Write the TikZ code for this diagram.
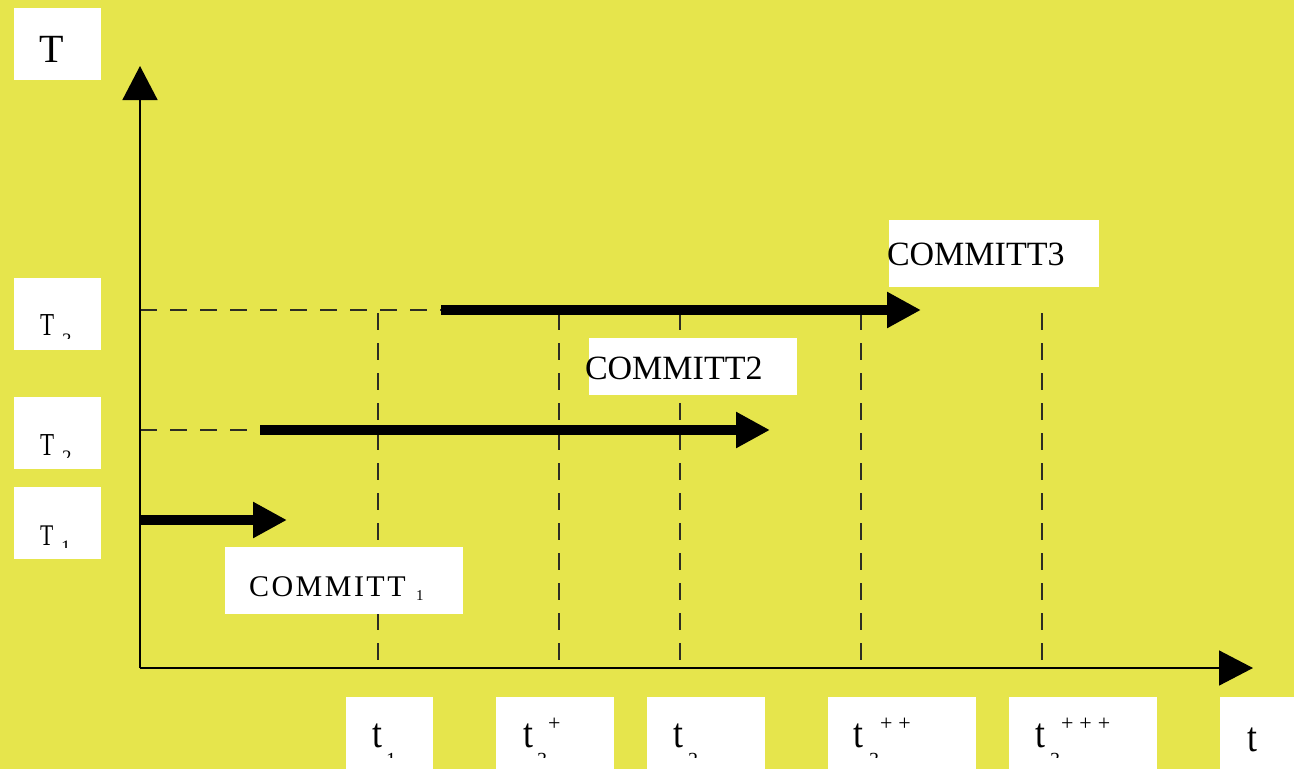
\documentclass[tikz,border=0pt]{standalone}
\usepackage{fontspec}
\setmainfont{Liberation Serif}
\usetikzlibrary{arrows.meta}
\definecolor{bgyellow}{RGB}{230,229,76}
\definecolor{guidegray}{RGB}{45,45,35}
\newcommand\fs[1]{\fontsize{#1}{#1}\selectfont}
% clip a label to its white box, leaving a 12pt strip at the bottom
\newcommand\clipabove[1]{\clip (#1.north west) rectangle ([yshift=12pt]#1.south east);}
\newcommand\spaced{C\kern2.5pt O\kern2.5pt M\kern2.5pt M\kern2.5pt I\kern2.5pt T\kern2.5pt T}

\begin{document}
\begin{tikzpicture}[x=1pt,y=-1pt,
  lbox/.style={fill=white, draw=none, inner sep=0pt, outer sep=0pt},
  txt/.style={inner sep=0pt, outer sep=0pt, anchor=base west},
  guide/.style={draw=guidegray, line width=1.2pt, dash pattern=on 17pt off 13pt},
  axis/.style={line width=1.5pt, -{Triangle[length=34pt,width=35pt]}},
  span/.style={line width=10pt, -{Triangle[length=34pt,width=34pt]}}]

% page
\fill[bgyellow] (0,0) rectangle (1294,769);
\useasboundingbox (0,0) rectangle (1294,769);

% axis points
\coordinate (O) at (140,668);
\coordinate (Ytip) at (140,66);
\coordinate (Xtip) at (1253,668);

% time marks on the axis and the tops of their guide lines
\coordinate (m1) at (378,668);  \coordinate (m1t) at (378,313);
\coordinate (m2) at (559,668);  \coordinate (m2t) at (559,313);
\coordinate (m3) at (680,668);  \coordinate (m3t) at (680,313);
\coordinate (m4) at (861,668);  \coordinate (m4t) at (861,313);
\coordinate (m5) at (1042,668); \coordinate (m5t) at (1042,313);

% transaction levels
\coordinate (L3) at (140,310); \coordinate (S3) at (441,310); \coordinate (E3) at (921,310);
\coordinate (L2) at (140,430); \coordinate (S2) at (260,430); \coordinate (E2) at (770,430);
\coordinate (S1) at (140,520); \coordinate (E1) at (287,520);

% guide lines
\draw[guide] (m1t) -- (m1);
\draw[guide] (m2t) -- (m2);
\draw[guide] (m3t) -- (m3);
\draw[guide] (m4t) -- (m4);
\draw[guide] (m5t) -- (m5);
\draw[guide] (L3) -- (S3);
\draw[guide] (L2) -- (S2);

% white label boxes
\node[lbox, minimum width=87pt, minimum height=72pt] (bT)  at (57.5,44) {};
\node[lbox, minimum width=87pt, minimum height=72pt] (bT3) at (57.5,314) {};
\node[lbox, minimum width=87pt, minimum height=72pt] (bT2) at (57.5,433) {};
\node[lbox, minimum width=87pt, minimum height=72pt] (bT1) at (57.5,523) {};
\node[lbox, minimum width=210pt, minimum height=67pt] (bC3) at (994,253.5) {};
\node[lbox, minimum width=208pt, minimum height=57pt] (bC2) at (693,366.5) {};
\node[lbox, minimum width=238pt, minimum height=67pt] (bC1) at (344,580.5) {};
\node[lbox, minimum width=87pt,  minimum height=72pt] (bt1)  at (389.5,733) {};
\node[lbox, minimum width=118pt, minimum height=72pt] (bt3a) at (555,733) {};
\node[lbox, minimum width=118pt, minimum height=72pt] (bt2)  at (706,733) {};
\node[lbox, minimum width=148pt, minimum height=72pt] (bt3b) at (902,733) {};
\node[lbox, minimum width=148pt, minimum height=72pt] (bt3c) at (1083,733) {};
\node[lbox, minimum width=74pt,  minimum height=72pt] (bt)   at (1257,733) {};

% axes
\draw[axis] (O) -- (Ytip);
\draw[axis] (O) -- (Xtip);

% transaction spans
\draw[span] (S3) -- (E3);
\draw[span] (S2) -- (E2);
\draw[span] (S1) -- (E1);

% axis and level labels
\node[txt, font=\fs{40}] (lT) at (39,62) {T};
\begin{scope}\clipabove{bT3}
  \node[txt, font=\fs{32}, xscale=0.72] (lT3) at (40,335) {T};
  \node[txt, font=\fs{19}] (sT3) at (62,346) {3};
\end{scope}
\begin{scope}\clipabove{bT2}
  \node[txt, font=\fs{32}, xscale=0.72] (lT2) at (40,455) {T};
  \node[txt, font=\fs{19}] (sT2) at (62,463) {2};
\end{scope}
\begin{scope}\clipabove{bT1}
  \node[txt, font=\fs{30}, xscale=0.72] (lT1) at (40,545) {T};
  \node[txt, font=\fs{19}] (sT1) at (61,553) {1};
\end{scope}

% commit labels
\node[txt, font=\fs{34}] (c3) at (887,265) {COMMITT3};
\node[txt, font=\fs{34}] (c2) at (585,379) {COMMITT2};
\node[txt, font=\fs{30}] (c1) at (249,596) {\spaced};
\node[txt, font=\fs{15}] (c1s) at (416,600) {1};

% time labels
\begin{scope}\clipabove{bt1}
  \node[txt, font=\fs{42}, xscale=0.85] (lt1) at (372,747) {t};
  \node[txt, font=\fs{20}] (st1) at (386,766) {1};
\end{scope}
\begin{scope}\clipabove{bt3a}
  \node[txt, font=\fs{42}, xscale=0.85] (lt3a) at (523,747) {t};
  \node[txt, font=\fs{22}] (pt3a) at (548,730) {+};
  \node[txt, font=\fs{20}] (st3a) at (537,766) {3};
\end{scope}
\begin{scope}\clipabove{bt2}
  \node[txt, font=\fs{42}, xscale=0.85] (lt2) at (673,747) {t};
  \node[txt, font=\fs{20}] (st2) at (688,766) {2};
\end{scope}
\begin{scope}\clipabove{bt3b}
  \node[txt, font=\fs{42}, xscale=0.85] (lt3b) at (853,747) {t};
  \node[txt, font=\fs{22}] (pt3b) at (880,730) {+\kern6pt+};
  \node[txt, font=\fs{20}] (st3b) at (869,766) {3};
\end{scope}
\begin{scope}\clipabove{bt3c}
  \node[txt, font=\fs{42}, xscale=0.85] (lt3c) at (1035,747) {t};
  \node[txt, font=\fs{22}] (pt3c) at (1061,730) {+\kern6pt+\kern6pt+};
  \node[txt, font=\fs{20}] (st3c) at (1050,766) {3};
\end{scope}
\node[txt, font=\fs{42}, xscale=0.85] (lt) at (1247,751) {t};

\end{tikzpicture}
\end{document}
